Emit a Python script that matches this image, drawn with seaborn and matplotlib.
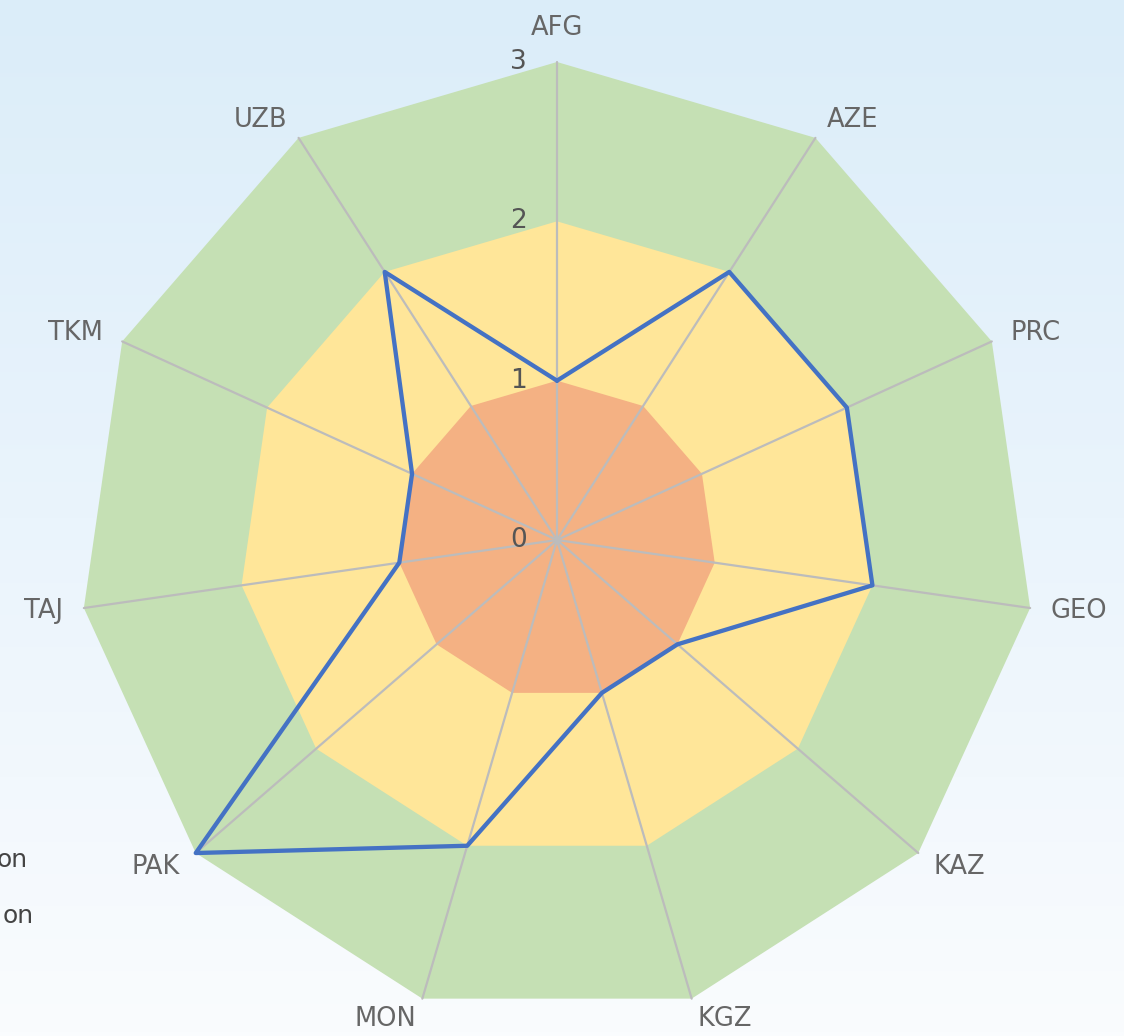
import numpy as np
import pandas as pd
import matplotlib
matplotlib.use("Agg")
import matplotlib.pyplot as plt
import seaborn as sns
from matplotlib.colors import LinearSegmentedColormap
from matplotlib.transforms import offset_copy

# ---- data ----
categories = ["AFG", "AZE", "PRC", "GEO", "KAZ", "KGZ", "MON", "PAK", "TAJ", "TKM", "UZB"]
scores = [1, 2, 2, 2, 1, 1, 2, 3, 1, 1, 2]
band_levels = [3, 2, 1]
band_colors = ["#c5e0b4", "#ffe699", "#f4b183"]
tick_values = [0, 1, 2, 3]
tick_labels = ["0", "1", "2", "3"]
legend_tails = ["on", "on"]

sns.set_theme(style="white")
plt.rcParams["font.family"] = ["DejaVu Sans"]

W, H = 1124, 1036
fig = plt.figure(figsize=(W / 100, H / 100), dpi=100)

# background gradient
bg = fig.add_axes([0, 0, 1, 1])
bg.set_axis_off()
grad = np.linspace(0, 1, 256)[:, None]
cmap = LinearSegmentedColormap.from_list("bg", ["#dbedf9", "#eaf4fc", "#fafcfe"])
bg.imshow(grad, aspect="auto", cmap=cmap, extent=[0, 1, 0, 1], origin="upper")

# polar axes: center (557,540), radius 478 px
cx, cy, R = 557, 540, 478
ax = fig.add_axes([(cx - R) / W, (H - cy - R) / H, 2 * R / W, 2 * R / H], projection="polar")
ax.patch.set_alpha(0)
ax.set_theta_zero_location("N")
ax.set_theta_direction(-1)
ax.set_ylim(0, 3)
ax.set_axis_off()

N = len(categories)
theta = np.linspace(0, 2 * np.pi, N, endpoint=False)

for lvl, col in zip(band_levels, band_colors):
    patches = ax.fill(theta, [lvl] * N, color=col, linewidth=0, zorder=1)
    for p in patches:
        p.set_clip_on(False)

for t in theta:
    ax.plot([t, t], [0, 3], color="#bcbcbc", lw=1.6, zorder=2, clip_on=False)
ax.plot([0], [0], "o", color="#bcbcbc", ms=5, zorder=2, clip_on=False)

df = pd.DataFrame({"theta": np.r_[theta, 2 * np.pi], "score": scores + [scores[0]]})
sns.lineplot(data=df, x="theta", y="score", sort=False, estimator=None,
             color="#4472c4", lw=3.1, ax=ax, zorder=3)
for ln in ax.lines[-1:]:
    ln.set_clip_on(False)
ax.set_xlabel("")
ax.set_ylabel("")

# category labels
for t, name in zip(theta, categories):
    s, c = np.sin(t), np.cos(t)
    if s > 0.01:
        ha, va = "left", "center"
    elif s < -0.01:
        ha, va = "right", "center"
    else:
        ha, va = "center", ("bottom" if c > 0 else "top")
    ax.text(t, 3.13, name, ha=ha, va=va, fontsize=18.5, color="#666666", clip_on=False)

# radial tick labels
trans = offset_copy(ax.transData, fig=fig, x=-30, y=0, units="dots")
for v, lbl in zip(tick_values, tick_labels):
    ax.text(0, v, lbl, transform=trans, ha="right", va="center", fontsize=19,
            color="#555555", zorder=4, clip_on=False)

# partially visible legend text on left edge
fig.text(28 / W, 1 - 860 / H, legend_tails[0], ha="right", va="center", fontsize=18, color="#444444")
fig.text(34 / W, 1 - 916 / H, legend_tails[1], ha="right", va="center", fontsize=18, color="#444444")

fig.savefig("out.png", dpi=100)
